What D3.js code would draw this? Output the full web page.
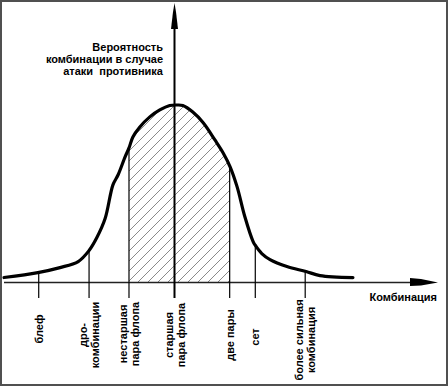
<!DOCTYPE html>
<html>
<head>
<meta charset="utf-8">
<script src="https://cdn.jsdelivr.net/npm/d3@7"></script>
<style>
  body { margin: 0; background: #fff; }
  text { font-family: "Liberation Sans", Arial, sans-serif; font-size: 11px; font-weight: bold; fill: #000; }
</style>
</head>
<body>
<div id="chart"></div>
<script>
const width = 448, height = 386;

// curve: combination strength (0..100) vs probability (peak = 1)
const combo = [0, 7.8, 12.9, 17.1, 19.6, 21.4, 23.3, 25.1, 26.3, 27.9, 28.8, 29.7, 31.3, 33.6, 35.9, 38.2, 39.9, 41.2, 43.5, 45.9, 48.6, 50.5, 52.1, 53.7, 55.5, 57.4, 57.8, 59.4, 61.3, 65.2, 69.6, 72.8, 80.4];
const prob  = [0.028, 0.056, 0.084, 0.118, 0.18, 0.253, 0.36, 0.55, 0.607, 0.708, 0.758, 0.82, 0.876, 0.933, 0.972, 0.997, 1.0, 0.997, 0.96, 0.9, 0.803, 0.73, 0.652, 0.54, 0.37, 0.23, 0.213, 0.163, 0.129, 0.09, 0.062, 0.039, 0.028];

// category marks on the horizontal axis
const tickPos = [8.0, 19.6, 28.8, 39.3, 52.0, 57.9, 69.4];
const tickLabels = [
  ["блеф"],
  ["дро-", "комбинации"],
  ["нестаршая", "пара флопа"],
  ["старшая", "пара флопа"],
  ["две пары"],
  ["сет"],
  ["более сильная", "комбинация"]
];
const labelMid = [329, 335, 334, 335, 335, 337, 340];
const hatchFrom = 28.8, hatchTo = 52.0;

const yTitle = ["Вероятность", "комбинации в случае", "атаки  противника"];
const xTitle = "Комбинация";

const axisY = 282.5, axisX = 174.5;

const x = d3.scaleLinear().domain([0, 100]).range([4, 438]);
const y = d3.scaleLinear().domain([0, 1]).range([axisY, 105]);

const svg = d3.select("#chart").append("svg")
  .attr("width", width).attr("height", height);

// frame
svg.append("rect")
  .attr("x", 1).attr("y", 1).attr("width", width - 2).attr("height", height - 2)
  .attr("fill", "none").attr("stroke", "#505050").attr("stroke-width", 2);

const data = combo.map((c, i) => ({ c, p: prob[i] }));

// hatch pattern
const defs = svg.append("defs");
defs.append("pattern")
  .attr("id", "hatch").attr("patternUnits", "userSpaceOnUse")
  .attr("width", 10).attr("height", 10)
  .append("path")
  .attr("d", "M0,10 L10,0 M-2,2 L2,-2 M8,12 L12,8")
  .attr("stroke", "#8a8a8a").attr("stroke-width", 1);
defs.append("clipPath").attr("id", "mid")
  .append("rect")
  .attr("x", x(hatchFrom)).attr("y", 0)
  .attr("width", x(hatchTo) - x(hatchFrom)).attr("height", axisY);

const curve = d3.curveCatmullRom;
svg.append("path")
  .datum(data)
  .attr("clip-path", "url(#mid)")
  .attr("fill", "url(#hatch)")
  .attr("d", d3.area().x(d => x(d.c)).y0(axisY).y1(d => y(d.p)).curve(curve));

// x axis
svg.append("line")
  .attr("x1", 4).attr("x2", 412).attr("y1", axisY).attr("y2", axisY)
  .attr("stroke", "#222").attr("stroke-width", 1.3);
svg.append("path")
  .attr("d", `M410,${axisY - 4.5} L421,${axisY - 3.5} L438,${axisY} L421,${axisY + 3} L410,${axisY + 3.5} Z`)
  .attr("fill", "#000");

// y axis
svg.append("line")
  .attr("x1", axisX).attr("x2", axisX).attr("y1", 20).attr("y2", 298)
  .attr("stroke", "#000").attr("stroke-width", 2);
svg.append("path")
  .attr("d", `M${axisX},3 L${axisX + 1.5},12 L${axisX + 3.5},29 L${axisX - 3.5},29 L${axisX - 1.5},12 Z`)
  .attr("fill", "#000");

// bell curve
const line = svg.append("path")
  .datum(data)
  .attr("fill", "none").attr("stroke", "#000").attr("stroke-width", 3.2)
  .attr("stroke-linejoin", "round").attr("stroke-linecap", "round")
  .attr("d", d3.line().x(d => x(d.c)).y(d => y(d.p)).curve(curve));

// find curve height at a given x on the drawn path
const node = line.node(), total = node.getTotalLength();
function curveYAt(px) {
  let lo = 0, hi = total;
  for (let k = 0; k < 40; k++) {
    const mid = (lo + hi) / 2;
    if (node.getPointAtLength(mid).x < px) lo = mid; else hi = mid;
  }
  return node.getPointAtLength(lo).y;
}

tickPos.forEach((t, i) => {
  const px = x(t);
  if (Math.abs(px - axisX) > 2) {
    svg.append("line")
      .attr("x1", px).attr("x2", px)
      .attr("y1", curveYAt(px)).attr("y2", 298)
      .attr("stroke", "#000").attr("stroke-width", 1.2);
  }
  const lines = tickLabels[i];
  const g = svg.append("g").attr("transform", `translate(${px},${labelMid[i]}) rotate(-90)`);
  lines.forEach((s, j) => {
    g.append("text")
      .attr("x", 0).attr("y", (j - (lines.length - 1) / 2) * 12)
      .attr("dy", "0.36em")
      .attr("text-anchor", "middle")
      .text(s);
  });
});

// titles
yTitle.forEach((s, i) => {
  svg.append("text")
    .attr("x", 163).attr("y", 51 + i * 12)
    .attr("text-anchor", "end")
    .style("white-space", "pre")
    .text(s);
});
svg.append("text")
  .attr("x", 437).attr("y", 301)
  .attr("text-anchor", "end")
  .text(xTitle);
</script>
</body>
</html>
